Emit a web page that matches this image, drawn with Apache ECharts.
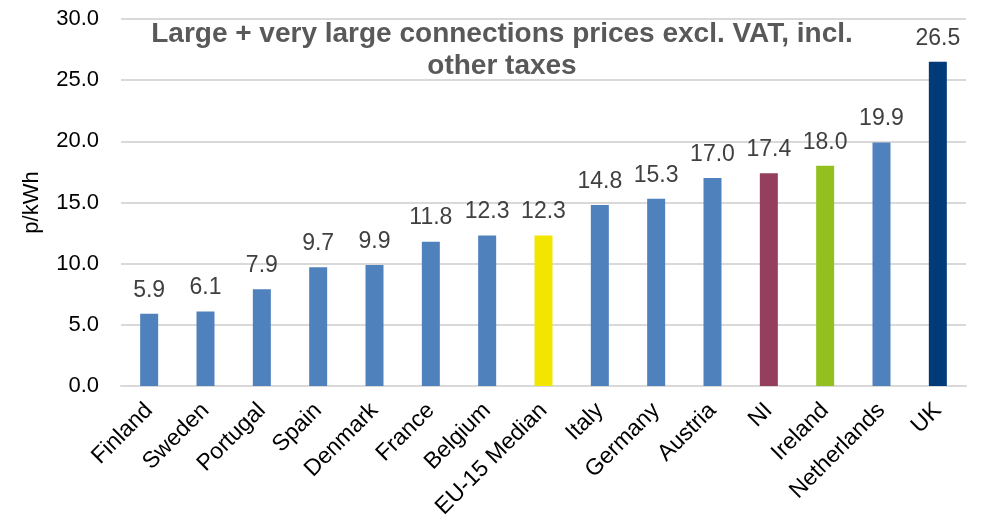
<!DOCTYPE html>
<html>
<head>
<meta charset="utf-8">
<script src="https://cdn.jsdelivr.net/npm/echarts@6/dist/echarts.min.js"></script>
<style>
  html, body { margin: 0; padding: 0; background: #ffffff; }
  #chart { width: 984px; height: 528px; }
</style>
</head>
<body>
<div id="chart"></div>
<script>
// Countries, ordered by price
const categories = ['Finland', 'Sweden', 'Portugal', 'Spain', 'Denmark', 'France', 'Belgium',
  'EU-15 Median', 'Italy', 'Germany', 'Austria', 'NI', 'Ireland', 'Netherlands', 'UK'];
// Price in p/kWh
const prices = [5.9, 6.1, 7.9, 9.7, 9.9, 11.8, 12.3, 12.3, 14.8, 15.3, 17.0, 17.4, 18.0, 19.9, 26.5];
// Highlighted bars
const barColors = ['#4f81bd', '#4f81bd', '#4f81bd', '#4f81bd', '#4f81bd', '#4f81bd', '#4f81bd',
  '#f2e600', '#4f81bd', '#4f81bd', '#4f81bd', '#953f5f', '#93c01f', '#4f81bd', '#003a78'];
const yTicks = { min: 0, max: 30, step: 5 };

const chart = echarts.init(document.getElementById('chart'));
const font = 'Liberation Sans, Arial, sans-serif';

chart.setOption({
  animation: false,
  title: {
    text: 'Large + very large connections prices excl. VAT, incl.\nother taxes',
    left: 497,
    top: 13,
    textAlign: 'center',
    textStyle: { fontFamily: font, fontSize: 28, fontWeight: 'bold', color: '#595959', lineHeight: 32 }
  },
  grid: { left: 121, right: 18, top: 19, bottom: 142, containLabel: false },
  xAxis: {
    type: 'category',
    data: categories,
    axisLine: { show: true, lineStyle: { color: '#d9d9d9', width: 2 } },
    axisTick: { show: false },
    axisLabel: {
      interval: 0,
      rotate: 45,
      margin: 21,
      fontFamily: font,
      fontSize: 23,
      color: '#000000'
    }
  },
  yAxis: {
    type: 'value',
    min: yTicks.min,
    max: yTicks.max,
    interval: yTicks.step,
    name: 'p/kWh',
    nameLocation: 'middle',
    nameGap: 78,
    nameRotate: 90,
    nameTextStyle: { fontFamily: font, fontSize: 22, color: '#000000' },
    axisLine: { show: false },
    axisTick: { show: false },
    axisLabel: {
      margin: 22,
      fontFamily: font,
      fontSize: 22,
      color: '#000000',
      formatter: v => v.toFixed(1)
    },
    splitLine: { lineStyle: { color: '#d9d9d9', width: 2 } }
  },
  series: [{
    type: 'bar',
    barWidth: 18,
    data: prices.map((v, i) => ({ value: v, itemStyle: { color: barColors[i] } })),
    label: {
      show: true,
      position: 'top',
      distance: 12,
      fontFamily: font,
      fontSize: 23,
      color: '#404040',
      formatter: p => p.value.toFixed(1)
    }
  }]
});
</script>
</body>
</html>
